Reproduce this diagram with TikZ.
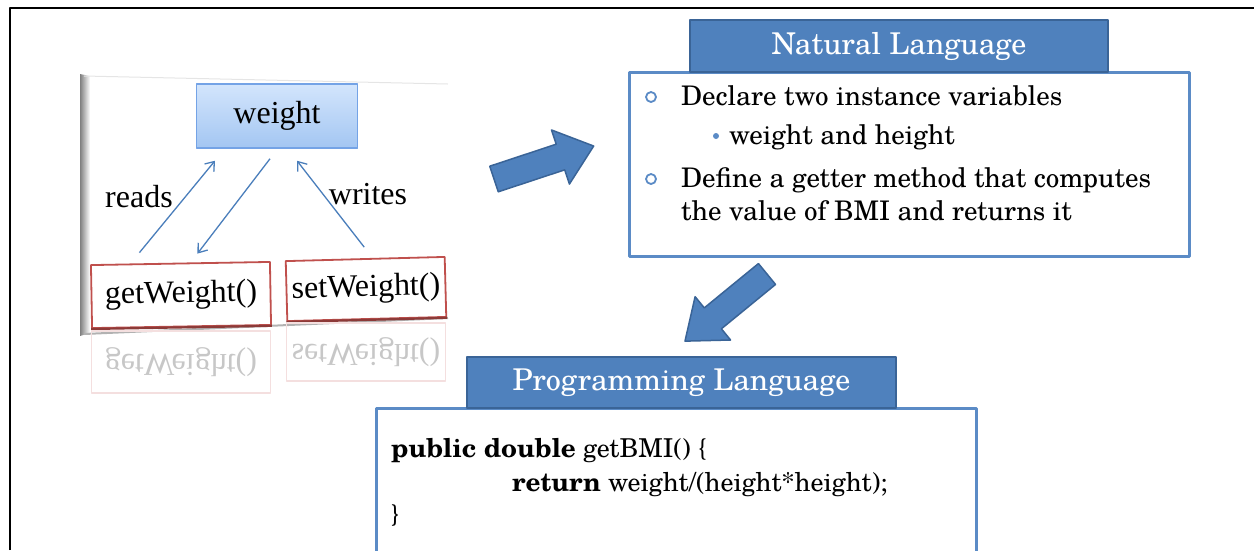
\documentclass[tikz,border=0pt]{standalone}
\usepackage{fontspec}
\setmainfont{TeX Gyre Schola}
\newfontfamily\panelfont{Liberation Serif}
\usetikzlibrary{arrows.meta}
\definecolor{hdrblue}{HTML}{4F81BD}
\definecolor{hdredge}{HTML}{3A6497}
\definecolor{boxblue}{HTML}{5B8BC6}
\definecolor{methred}{HTML}{C0504D}
\definecolor{methdark}{HTML}{8C3A38}
\definecolor{lineblue}{HTML}{4A7EBB}
\definecolor{wtop}{HTML}{D3E5FC}
\definecolor{wbot}{HTML}{A3C6F2}
\definecolor{wedge}{HTML}{74A3E6}
\newcommand\hdrsize{\fontsize{30}{36}\selectfont}
\newcommand\bodysize{\fontsize{27}{32}\selectfont}
\newcommand\codesize{\fontsize{26}{30}\selectfont}
\newcommand\panelsize{\panelfont\fontsize{32}{36}\selectfont}

\begin{document}
\begin{tikzpicture}[x=1pt,y=-1pt,line join=round,
  hdr/.style={draw=hdredge,fill=hdrblue,line width=2.2pt,text=white,font=\hdrsize,inner sep=0pt},
  txtbox/.style={draw=boxblue,fill=white,line width=3pt,inner sep=0pt},
  methbox/.style={draw=methred,fill=white,line width=1.8pt,inner sep=0pt,font=\panelsize},
  mirrbox/.style={draw=methred!18,line width=1.2pt,inner sep=0pt,text=black!22,font=\panelsize},
  thinarr/.style={draw=lineblue,line width=1.3pt,-{Straight Barb[length=8pt,width=12pt]}},
  blockarr/.style={fill=hdrblue,draw=hdredge,line width=1.5pt},
  txt/.style={anchor=base west,inner sep=0pt}]
\useasboundingbox (0,0) rectangle (1254,550);

% frame
\draw[line width=2.4pt] (10,550) -- (10,8) -- (1254,8);

% left card with its shadow
\fill[white] (84,76) -- (448,84) -- (448,316) -- (84,333) -- cycle;
\shade[left color=black!50,right color=white] (80,74) -- (90,76) -- (90,333) -- (80,336) -- cycle;
\draw[black!10,line width=1pt] (84,76) -- (448,84);
\draw[black!30,line width=2pt] (84,334) -- (448,318);

\node[draw=wedge,top color=wtop,bottom color=wbot,line width=1.5pt,minimum width=161pt,
  minimum height=64pt,inner sep=0pt,font=\panelsize] (weight) at (277,116) {weight};
\node[methbox,minimum width=179pt,minimum height=63pt,rotate=1] (getw) at (181,295) {getWeight()};
\node[methbox,minimum width=159pt,minimum height=60pt,rotate=1.5] (setw) at (366,289) {setWeight()};
\draw[methdark,line width=2.2pt] (getw.south west) -- (getw.south east);
\draw[methdark,line width=2.2pt] (setw.south west) -- (setw.south east);

% reflections
\node[mirrbox,minimum width=179pt,minimum height=62pt] (getwR) at (181,362)
  {\scalebox{1}[-1]{getWeight()}};
\node[mirrbox,minimum width=159pt,minimum height=58pt] (setwR) at (366,352)
  {\scalebox{1}[-1]{setWeight()}};

\draw[thinarr] ([xshift=-41pt,yshift=10pt]getw.north) -- ([xshift=-62pt,yshift=-12pt]weight.south);
\draw[thinarr] ([xshift=-7pt,yshift=-10pt]weight.south) -- ([xshift=17pt,yshift=9pt]getw.north);
\draw[thinarr] ([xshift=-1pt,yshift=11pt]setw.north) -- ([xshift=20pt,yshift=-12pt]weight.south);
\node[font=\panelsize] (reads) at (139,197) {reads};
\node[font=\panelsize] (writes) at (368,194) {writes};

% block arrows
\begin{scope}[shift={(494,179)},rotate=18.3]
  \draw[blockarr] (0,-13.5) -- (70,-13.5) -- (70,-28.5) -- (105,0) -- (70,28.5) -- (70,13.5)
    -- (0,13.5) -- cycle;
\end{scope}
\begin{scope}[shift={(767,274)},rotate=219.3]
  \draw[blockarr] (0,-13.5) -- (70,-13.5) -- (70,-28) -- (106,0) -- (70,28) -- (70,13.5)
    -- (0,13.5) -- cycle;
\end{scope}

% natural language
\node[txtbox,minimum width=560pt,minimum height=184pt] (nlbox) at (909,164) {};
\node[hdr,minimum width=418pt,minimum height=52pt] (nlhdr) at (899,46) {\raisebox{-3pt}{Natural Language}};
\draw[boxblue,line width=1.8pt] (651,97) circle (5pt);
\fill[boxblue] (716,136) circle (3pt);
\draw[boxblue,line width=1.8pt] (651,179) circle (5pt);
\node[txt,font=\bodysize] (l1) at (681,105) {Declare two instance variables};
\node[txt,font=\bodysize] (l2) at (729,144) {weight and height};
\node[txt,font=\bodysize] (l3) at (681,187) {Define a getter method that computes};
\node[txt,font=\bodysize] (l4) at (681,220) {the value of BMI and returns it};

% programming language
\node[txtbox,minimum width=600pt,minimum height=160pt] (plbox) at (676,488) {};
\node[hdr,minimum width=429pt,minimum height=51pt] (plhdr) at (681.5,382.5) {\raisebox{-3pt}{Programming Language}};
\node[txt,font=\codesize] (c1) at (391,457) {\textbf{public double} getBMI() \{};
\node[txt,font=\codesize] (c2) at (512,491) {\textbf{return} weight/(height*height);};
\node[txt,font=\codesize] (c3) at (391,523) {\}};
\end{tikzpicture}
\end{document}
